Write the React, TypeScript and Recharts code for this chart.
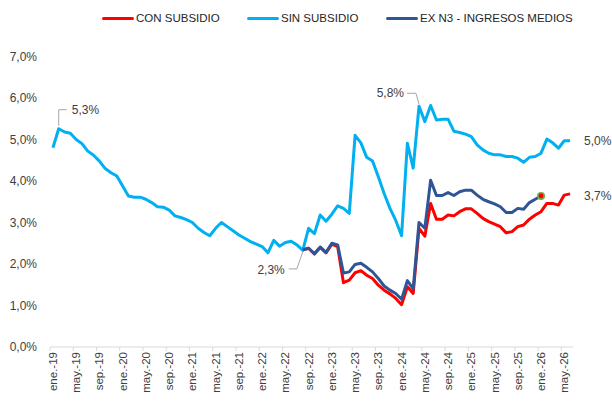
import { LineChart, Line, XAxis, YAxis, Legend, LabelList } from 'recharts'

const W = 612
const H = 403
const PLOT_LEFT = 50
const PLOT_RIGHT = 573
const BAND = (PLOT_RIGHT - PLOT_LEFT) / 90

const months = ['ene', 'feb', 'mar', 'abr', 'may', 'jun', 'jul', 'ago', 'sep', 'oct', 'nov', 'dic']
const years = ['19', '20', '21', '22', '23', '24', '25', '26']

// ene-19 .. jun-26
const sinSubsidio = [
  4.8, 5.26, 5.18, 5.15, 5.0, 4.9, 4.72, 4.62, 4.48, 4.3, 4.2, 4.12,
  3.88, 3.64, 3.61, 3.61, 3.56, 3.48, 3.38, 3.37, 3.3, 3.16, 3.12, 3.07,
  3.0, 2.86, 2.76, 2.68, 2.86, 3.0, 2.9, 2.8, 2.7, 2.62, 2.54, 2.48,
  2.42, 2.27, 2.57, 2.43, 2.52, 2.55, 2.46, 2.33, 2.86, 2.73, 3.18, 3.03,
  3.2, 3.4, 3.34, 3.22, 5.1, 4.92, 4.57, 4.48, 4.1, 3.7, 3.34, 3.05,
  2.68, 4.91, 4.31, 5.8, 5.43, 5.82, 5.47, 5.49, 5.49, 5.2, 5.17, 5.13,
  5.07, 4.87, 4.75, 4.67, 4.63, 4.63, 4.59, 4.59, 4.55, 4.45, 4.57, 4.59,
  4.67, 5.01, 4.92, 4.79, 4.97, 4.97,
]

// ago-22 .. jun-26
const conSubsidio = [
  2.34, 2.38, 2.24, 2.4, 2.27, 2.48, 2.42, 1.55, 1.61, 1.79, 1.84, 1.73,
  1.65, 1.49, 1.37, 1.28, 1.17, 1.02, 1.45, 1.29, 2.86, 2.67, 3.46, 3.08,
  3.08, 3.18, 3.16, 3.26, 3.33, 3.33, 3.22, 3.1, 3.02, 2.96, 2.9, 2.75,
  2.78, 2.9, 2.94, 3.08, 3.18, 3.26, 3.46, 3.46, 3.42, 3.66, 3.69,
]

// ago-22 .. ene-26
const exN3 = [
  2.34, 2.38, 2.25, 2.41, 2.28, 2.5, 2.46, 1.78, 1.81, 1.99, 2.02, 1.92,
  1.81, 1.65, 1.47, 1.37, 1.29, 1.15, 1.6, 1.4, 3.0, 2.86, 4.02, 3.65,
  3.65, 3.72, 3.65, 3.74, 3.78, 3.78, 3.66, 3.56, 3.5, 3.45, 3.38, 3.24,
  3.24, 3.34, 3.32, 3.48, 3.56, 3.64,
]

const startIndex = 43
const yTicks = [0, 1, 2, 3, 4, 5, 6, 7]

const categories = years.flatMap((y) => months.map((m) => `${m}.-${y}`)).slice(0, sinSubsidio.length)

const chartData = categories.map((mes, i) => ({
  mes,
  sin: sinSubsidio[i],
  con: i >= startIndex ? conSubsidio[i - startIndex] ?? null : null,
  n3: i >= startIndex ? exN3[i - startIndex] ?? null : null,
}))

const RED = '#ff0000'
const LIGHT = '#00b0f0'
const DARK = '#2f5597'
const TEXT = '#404040'
const LEADER = '#a6a6a6'

const fmt = (v: number) => `${v.toFixed(1).replace('.', ',')}%`

const legendItems = [
  { name: 'CON SUBSIDIO', color: RED, left: 102 },
  { name: 'SIN SUBSIDIO', color: LIGHT, left: 247 },
  { name: 'EX N3 - INGRESOS MEDIOS', color: DARK, left: 386 },
]

function ChartLegend() {
  return (
    <div style={{ position: 'relative', width: W, height: 20 }}>
      {legendItems.map((it) => (
        <div
          key={it.name}
          style={{ position: 'absolute', left: it.left, top: 0, display: 'flex', alignItems: 'center', height: 20 }}
        >
          <span style={{ display: 'inline-block', width: 32, height: 3, background: it.color, borderRadius: 2 }} />
          <span style={{ marginLeft: 2, fontSize: 11.5, color: '#262626', whiteSpace: 'nowrap' }}>{it.name}</span>
        </div>
      ))}
    </div>
  )
}

function XTick(props: any) {
  const { x, y, payload } = props
  const tx = x - BAND / 2
  return (
    <g>
      <line x1={tx} x2={tx} y1={y - 5} y2={y - 1} stroke="#d9d9d9" />
      <text
        x={x}
        y={y}
        transform={`rotate(-90, ${x}, ${y})`}
        textAnchor="end"
        dominantBaseline="central"
        fontSize={11.5}
        fill={TEXT}
      >
        {payload.value}
      </text>
    </g>
  )
}

function SinLabel(props: any) {
  const { x, y, index, value } = props
  if (index === 1) {
    return (
      <g>
        <polyline points={`${x},${y - 3} ${x},${y - 19} ${x + 8},${y - 19}`} stroke={LEADER} fill="none" />
        <text x={x + 13} y={y - 19} dominantBaseline="central" fontSize={12} fill={TEXT}>
          {fmt(value)}
        </text>
      </g>
    )
  }
  if (index === 63) {
    return (
      <g>
        <polyline points={`${x},${y - 2} ${x - 3},${y - 13} ${x - 12},${y - 13}`} stroke={LEADER} fill="none" />
        <text x={x - 15} y={y - 13} textAnchor="end" dominantBaseline="central" fontSize={12} fill={TEXT}>
          {fmt(value)}
        </text>
      </g>
    )
  }
  if (index === sinSubsidio.length - 1) {
    return (
      <text x={x + 14} y={y} dominantBaseline="central" fontSize={12} fill={TEXT}>
        {fmt(value)}
      </text>
    )
  }
  return null
}

function ConLabel(props: any) {
  const { x, y, index, value } = props
  if (index === startIndex) {
    return (
      <g>
        <polyline points={`${x},${y + 2} ${x - 6},${y + 19} ${x - 14},${y + 19}`} stroke={LEADER} fill="none" />
        <text x={x - 18} y={y + 20} textAnchor="end" dominantBaseline="central" fontSize={12} fill={TEXT}>
          {fmt(value)}
        </text>
      </g>
    )
  }
  if (index === sinSubsidio.length - 1) {
    return (
      <text x={x + 14} y={y + 2} dominantBaseline="central" fontSize={12} fill={TEXT}>
        {fmt(value)}
      </text>
    )
  }
  return null
}

function EndDot(props: any) {
  const { cx, cy, index } = props
  if (index !== startIndex + exN3.length - 1) return <g key={`d-${index}`} />
  return <circle key={`d-${index}`} cx={cx} cy={cy} r={3.2} fill={RED} stroke="#70ad47" strokeWidth={1.6} />
}

export default function App() {
  return (
    <div
      style={{
        position: 'absolute',
        left: 0,
        top: 0,
        width: W,
        height: H,
        background: '#fff',
        fontFamily: '"Liberation Sans", Arial, sans-serif',
      }}
    >
      <LineChart width={W} height={H} data={chartData} margin={{ top: 56.5, right: W - PLOT_RIGHT, bottom: 0, left: 0 }}>
        <XAxis
          dataKey="mes"
          interval={3}
          height={56}
          tickLine={false}
          tickSize={4}
          tickMargin={1}
          axisLine={{ stroke: '#d9d9d9' }}
          padding={{ left: BAND / 2, right: BAND / 2 }}
          tick={<XTick />}
        />
        <YAxis
          width={PLOT_LEFT}
          domain={[0, 7]}
          ticks={yTicks}
          axisLine={false}
          tickLine={false}
          tickSize={0}
          tickMargin={13}
          tick={{ fontSize: 12, fill: TEXT }}
          tickFormatter={fmt}
        />
        <Legend
          layout="horizontal"
          verticalAlign="middle"
          align="center"
          wrapperStyle={{ top: 8, left: 0, width: W }}
          content={() => <ChartLegend />}
        />
        <Line
          name="CON SUBSIDIO"
          dataKey="con"
          stroke={RED}
          strokeWidth={3}
          dot={false}
          strokeLinejoin="round"
          isAnimationActive={false}
        >
          <LabelList dataKey="con" content={<ConLabel />} />
        </Line>
        <Line
          name="SIN SUBSIDIO"
          dataKey="sin"
          stroke={LIGHT}
          strokeWidth={3}
          dot={false}
          strokeLinejoin="round"
          isAnimationActive={false}
        >
          <LabelList dataKey="sin" content={<SinLabel />} />
        </Line>
        <Line
          name="EX N3 - INGRESOS MEDIOS"
          dataKey="n3"
          stroke={DARK}
          strokeWidth={3}
          dot={<EndDot />}
          strokeLinejoin="round"
          isAnimationActive={false}
        />
      </LineChart>
    </div>
  )
}
